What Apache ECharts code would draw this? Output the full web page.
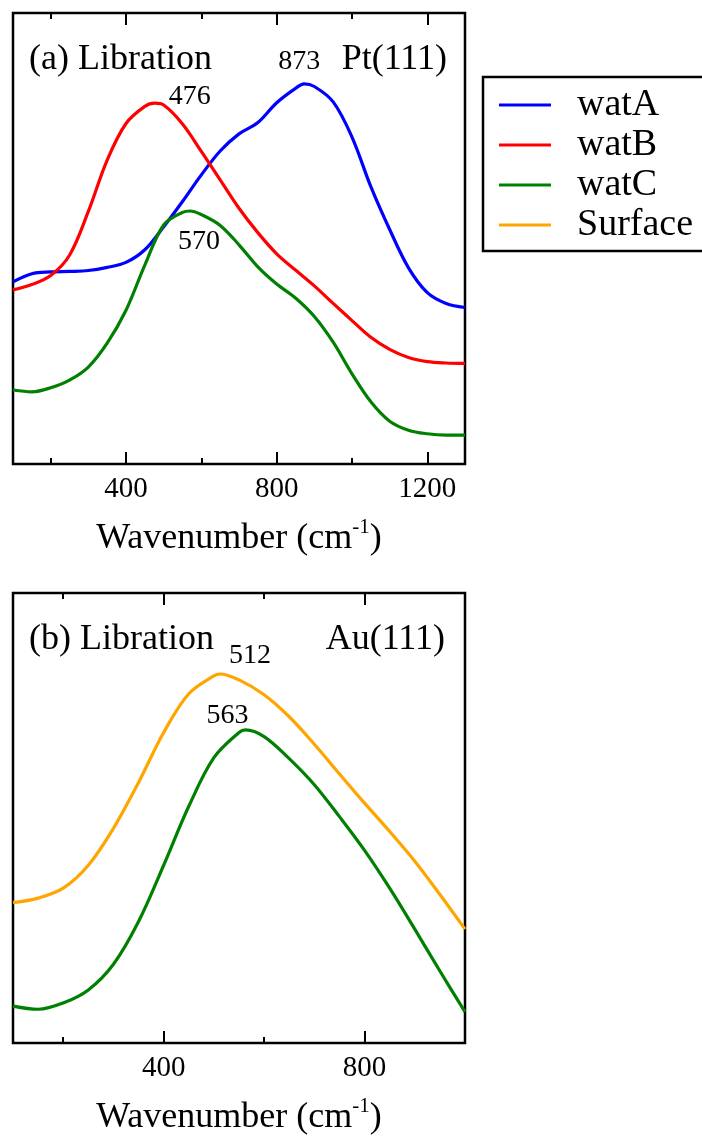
<!DOCTYPE html>
<html>
<head>
<meta charset="utf-8">
<script src="https://cdn.jsdelivr.net/npm/echarts@6/dist/echarts.min.js"></script>
<style>
  html, body { margin: 0; padding: 0; background: #fff; }
  #main { width: 702px; height: 1137px; }
</style>
</head>
<body>
<div id="main"></div>
<script>
// (a) Pt(111) -- intensity in arbitrary units
var watA_wn = [100, 150, 200, 250, 300, 350, 400, 450, 500, 550, 600, 650, 700, 750, 800, 850, 873, 900, 950, 1000, 1050, 1100, 1150, 1200, 1250, 1300];
var watA = [40.4, 42.2, 42.6, 42.7, 42.9, 43.6, 44.7, 47.5, 52.6, 58.2, 64.1, 69.4, 73.2, 75.7, 80.1, 83.3, 84.3, 83.7, 80.3, 72.5, 61.5, 52.0, 43.5, 38.0, 35.6, 34.7];

var watB_wn = [100, 150, 200, 250, 300, 350, 400, 450, 476, 500, 550, 600, 650, 700, 750, 800, 850, 900, 950, 1000, 1050, 1100, 1150, 1200, 1250, 1300];
var watB = [38.6, 39.8, 41.8, 46.3, 56.0, 67.4, 75.5, 79.3, 80.0, 79.6, 75.4, 69.3, 63.0, 56.7, 51.3, 46.6, 43.0, 39.5, 35.6, 31.8, 28.1, 25.4, 23.6, 22.7, 22.4, 22.3];

var watC_wn = [100, 150, 200, 250, 300, 350, 400, 450, 500, 550, 570, 600, 650, 700, 750, 800, 850, 900, 950, 1000, 1050, 1100, 1150, 1200, 1250, 1300];
var watC = [16.4, 16.0, 16.9, 18.6, 21.5, 26.8, 34.1, 44.1, 53.0, 55.8, 56.1, 55.3, 52.9, 48.6, 43.7, 39.9, 36.8, 32.7, 27.0, 20.0, 13.8, 9.5, 7.5, 6.7, 6.4, 6.4];

// (b) Au(111)
var surf_wn = [100, 150, 200, 250, 300, 350, 400, 450, 500, 512, 550, 600, 650, 700, 750, 800, 850, 900, 950, 1000];
var surf = [31.2, 32.2, 34.4, 39.5, 47.7, 57.9, 69.0, 77.6, 81.6, 82.0, 80.7, 77.4, 72.5, 66.4, 59.8, 53.3, 47.0, 40.4, 33.0, 25.3];

var watCb_wn = [100, 150, 200, 250, 300, 350, 400, 450, 500, 550, 563, 600, 650, 700, 750, 800, 850, 900, 950, 1000];
var watCb = [8.2, 7.5, 8.9, 11.8, 17.5, 27.0, 39.5, 52.6, 63.4, 69.0, 69.6, 68.1, 63.2, 57.4, 50.3, 42.8, 34.4, 25.3, 16.0, 6.9];

// peak positions (cm-1)
var peakA = 873, peakB = 476, peakC = 570, peakS = 512, peakCb = 563;

var ticksA = [400, 800, 1200], minorA = [200, 600, 1000];
var ticksB = [400, 800], minorB = [200, 600];

var FONT = '"Liberation Serif", "Times New Roman", serif';

function zip(xs, ys) {
  return xs.map(function (x, i) { return [x, ys[i]]; });
}

function peakMark(wn, xs, ys, off) {
  return {
    symbol: 'circle',
    symbolSize: 1,
    itemStyle: { color: 'rgba(0,0,0,0)' },
    label: {
      show: true,
      formatter: String(wn),
      offset: off,
      color: '#000',
      fontFamily: FONT,
      fontSize: 28
    },
    data: [{ coord: [wn, ys[xs.indexOf(wn)]] }]
  };
}

// four x axes per panel: bottom major (labels), bottom minor, top major, top minor
function panelAxes(grid, max, major, minor) {
  function ax(pos, vals, len, labels) {
    var a = {
      type: 'value', gridIndex: grid, position: pos, min: 100, max: max,
      axisLine: { show: false },
      splitLine: { show: false },
      axisTick: { show: true, inside: true, length: len, customValues: vals,
        lineStyle: { color: '#000', width: 2 } },
      axisLabel: { show: false }
    };
    if (labels) {
      a.axisLabel = { show: true, customValues: vals, margin: 11, color: '#000',
        fontFamily: FONT, fontSize: 29,
        formatter: function (v) { return String(v); } };
      a.name = '{t|Wavenumber (cm}{s|-1}{t|)}';
      a.nameLocation = 'middle';
      a.nameGap = 53;
      a.nameTextStyle = {
        rich: {
          t: { fontFamily: FONT, fontSize: 36, color: '#000', lineHeight: 44, verticalAlign: 'middle' },
          s: { fontFamily: FONT, fontSize: 21, color: '#000', lineHeight: 21, verticalAlign: 'top' }
        }
      };
    }
    return a;
  }
  return [
    ax('bottom', major, 12, true),
    ax('bottom', minor, 6, false),
    ax('top', major, 12, false),
    ax('top', minor, 6, false)
  ];
}

function line(name, color, xi, yi, xs, ys, mark) {
  return {
    type: 'line', name: name, xAxisIndex: xi, yAxisIndex: yi,
    data: zip(xs, ys), smooth: 0.35, showSymbol: false,
    lineStyle: { width: 3.2, color: color }, itemStyle: { color: color },
    markPoint: mark
  };
}

var chart = echarts.init(document.getElementById('main'));
chart.setOption({
  animation: false,
  backgroundColor: '#fff',
  grid: [
    { left: 13, top: 13, width: 452, height: 451, show: true, borderColor: '#000', borderWidth: 2.5 },
    { left: 13, top: 593, width: 452, height: 451, show: true, borderColor: '#000', borderWidth: 2.5 }
  ],
  xAxis: panelAxes(0, 1300, ticksA, minorA).concat(panelAxes(1, 1000, ticksB, minorB)),
  yAxis: [
    { type: 'value', gridIndex: 0, min: 0, max: 100, show: false },
    { type: 'value', gridIndex: 1, min: 0, max: 100, show: false }
  ],
  legend: {
    orient: 'vertical', left: 499, top: 86, padding: 0,
    itemWidth: 52, itemHeight: 3, itemGap: 2, icon: 'rect',
    selectedMode: false,
    data: ['watA', 'watB', 'watC', 'Surface'],
    textStyle: { fontFamily: FONT, fontSize: 38, color: '#000', lineHeight: 36, padding: [0, 0, 0, 21] }
  },
  graphic: [
    { type: 'rect', shape: { x: 483, y: 77, width: 260, height: 174 },
      style: { fill: 'none', stroke: '#000', lineWidth: 2.5 } },
    { type: 'text', x: 29, y: 60, style: { text: '(a) Libration', font: '36px ' + FONT, fill: '#000', align: 'left', verticalAlign: 'middle' } },
    { type: 'text', x: 447, y: 60, style: { text: 'Pt(111)', font: '36px ' + FONT, fill: '#000', align: 'right', verticalAlign: 'middle' } },
    { type: 'text', x: 29, y: 640, style: { text: '(b) Libration', font: '36px ' + FONT, fill: '#000', align: 'left', verticalAlign: 'middle' } },
    { type: 'text', x: 445, y: 640, style: { text: 'Au(111)', font: '36px ' + FONT, fill: '#000', align: 'right', verticalAlign: 'middle' } }
  ],
  series: [
    line('watA', '#0000ff', 0, 0, watA_wn, watA, peakMark(peakA, watA_wn, watA, [-5, -22])),
    line('watB', '#ff0000', 0, 0, watB_wn, watB, peakMark(peakB, watB_wn, watB, [35, -7])),
    line('watC', '#008000', 0, 0, watC_wn, watC, peakMark(peakC, watC_wn, watC, [9, 31])),
    line('Surface', '#ffa500', 4, 1, surf_wn, surf, peakMark(peakS, surf_wn, surf, [30, -18])),
    line('watC', '#008000', 4, 1, watCb_wn, watCb, peakMark(peakCb, watCb_wn, watCb, [-18, -14]))
  ]
});
</script>
</body>
</html>
